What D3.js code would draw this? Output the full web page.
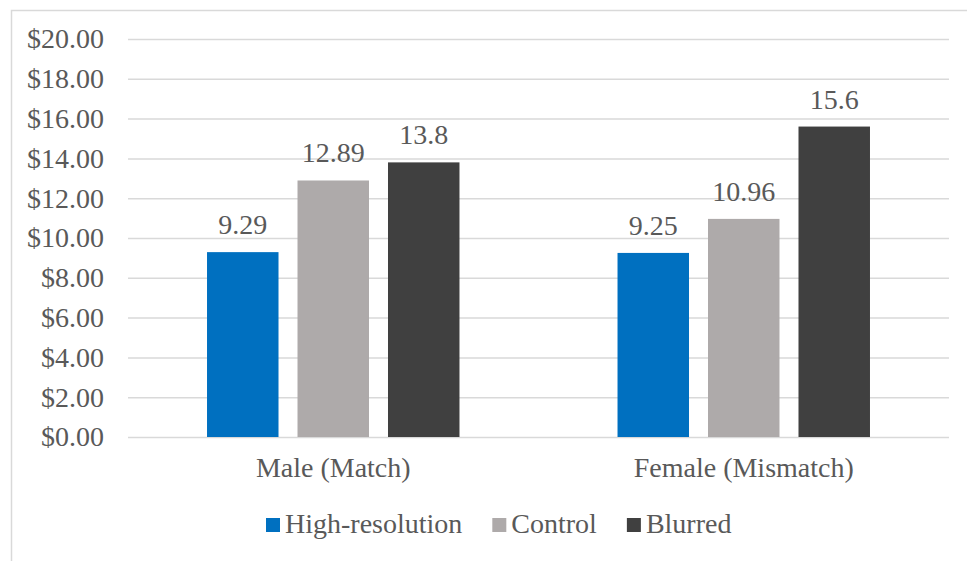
<!DOCTYPE html>
<html>
<head>
<meta charset="utf-8">
<script src="https://cdn.jsdelivr.net/npm/d3@7"></script>
<style>
  html, body { margin: 0; padding: 0; background: #fff; }
  svg { display: block; }
</style>
</head>
<body>
<svg id="chart" width="967" height="561"></svg>
<script>
// Mean values per condition, grouped by voice/face gender
const categories = ["Male (Match)", "Female (Mismatch)"];
const seriesNames = ["High-resolution", "Control", "Blurred"];
const highRes = [9.29, 9.25];
const control = [12.89, 10.96];
const blurred = [13.8, 15.6];
const labelText = [["9.29", "12.89", "13.8"], ["9.25", "10.96", "15.6"]];
const yTicks = [0, 2, 4, 6, 8, 10, 12, 14, 16, 18, 20];
const colors = ["#0070C0", "#AEAAAA", "#404040"];

const FONT = '"Liberation Serif"';
const FONT_SIZE = "28px";
const TEXT_COLOR = "#595959";

const seriesValues = [highRes, control, blurred];
const rows = categories.map((c, i) => ({
  category: c,
  bars: seriesNames.map((s, j) => ({ series: s, value: seriesValues[j][i], label: labelText[i][j], color: colors[j] }))
}));

const styleText = sel => sel
  .attr("font-family", null)
  .style("font-family", FONT)
  .style("font-size", FONT_SIZE)
  .style("fill", TEXT_COLOR);

const svg = d3.select("#chart");

// Chart area frame
svg.append("rect")
  .attr("x", 11.5).attr("y", 10.5)
  .attr("width", 990).attr("height", 600)
  .attr("fill", "none").attr("stroke", "#D9D9D9").attr("stroke-width", 1.5);

const plot = { left: 128, right: 949, top: 39, bottom: 437 };

const y = d3.scaleLinear().domain([0, 20]).range([plot.bottom, plot.top]);
const x0 = d3.scaleBand().domain(categories).range([plot.left, plot.right])
  .paddingInner(0.385).paddingOuter(0.1925);
const x1 = d3.scaleBand().domain(seriesNames).range([0, x0.bandwidth()]).paddingInner(0.21).paddingOuter(0);

// Gridlines and y labels
const yAxis = d3.axisLeft(y).tickValues(yTicks)
  .tickSize(-(plot.right - plot.left))
  .tickPadding(24)
  .tickFormat(d => "$" + d3.format(".2f")(d));

const gy = svg.append("g").attr("transform", `translate(${plot.left},0)`).call(yAxis);
gy.attr("font-family", null).attr("font-size", null);
gy.select(".domain").remove();
gy.selectAll(".tick line").attr("stroke", "#D9D9D9").attr("stroke-width", 1.5);
gy.selectAll(".tick text").call(styleText);

// Bars
const groups = svg.append("g").selectAll("g")
  .data(rows).join("g")
  .attr("transform", d => `translate(${x0(d.category)},0)`);

groups.selectAll("rect")
  .data(d => d.bars).join("rect")
  .attr("x", d => x1(d.series))
  .attr("y", d => y(d.value))
  .attr("width", x1.bandwidth())
  .attr("height", d => y(0) - y(d.value))
  .attr("fill", d => d.color);

// Value labels
groups.selectAll("text.val")
  .data(d => d.bars).join("text")
  .attr("class", "val")
  .attr("x", d => x1(d.series) + x1.bandwidth() / 2)
  .attr("y", d => y(d.value) - 18)
  .attr("text-anchor", "middle")
  .call(styleText)
  .text(d => d.label);

// Category axis labels
const xAxis = d3.axisBottom(x0).tickSize(0).tickPadding(0);
const gx = svg.append("g").attr("transform", `translate(0,${plot.bottom})`).call(xAxis);
gx.attr("font-family", null).attr("font-size", null);
gx.select(".domain").remove();
gx.selectAll(".tick text")
  .attr("y", 40).attr("dy", 0)
  .call(styleText);

// Legend
const legend = svg.append("g");
let lx = 266;
seriesNames.forEach((s, j) => {
  legend.append("rect")
    .attr("x", lx).attr("y", 518)
    .attr("width", 14).attr("height", 14)
    .attr("fill", colors[j]);
  const t = legend.append("text")
    .attr("x", lx + 19).attr("y", 533)
    .call(styleText)
    .text(s);
  lx += 19 + t.node().getComputedTextLength() + 30;
});
</script>
</body>
</html>
